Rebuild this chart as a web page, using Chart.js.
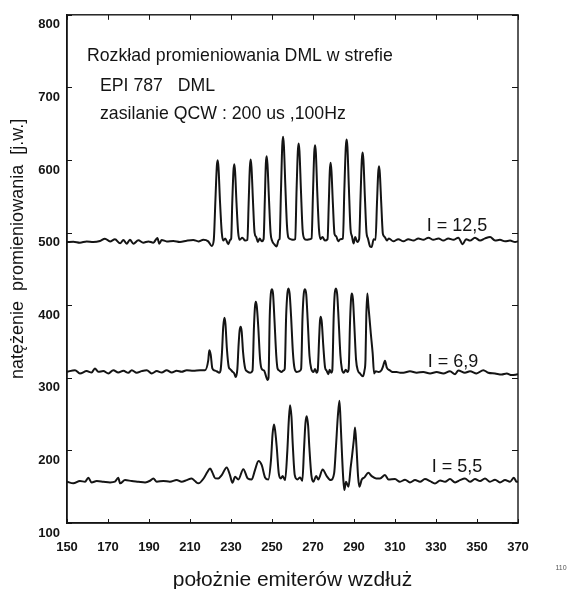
<!DOCTYPE html>
<html>
<head>
<meta charset="utf-8">
<script src="https://cdn.jsdelivr.net/npm/chart.js@4.4.1/dist/chart.umd.min.js"></script>
<style>
  html, body { margin: 0; padding: 0; background: #fff; }
  canvas { display: block; }
</style>
</head>
<body>
<canvas id="c" width="585" height="589"></canvas>
<script>
// ---- data ----
const xTicks = [150, 170, 190, 210, 230, 250, 270, 290, 310, 330, 350, 370];
const yTicks = [100, 200, 300, 400, 500, 600, 700, 800];

const titleLines = ["Rozkład promieniowania DML w strefie", "EPI 787   DML", "zasilanie QCW : 200 us ,100Hz"];
const seriesNames = ["I = 12,5", "I = 6,9", "I = 5,5"];
const xAxisTitle = "położnie emiterów wzdłuż";
const yAxisTitle = "natężenie  promieniowania  [j.w.]";

// I = 12,5 : [position, intensity]
const curve125 = [
  [150,487.0],[153.1,487.5],[156.3,486.1],[159.6,487.9],[162.8,487.0],[166.1,488.4],[168.5,491.6],[171.0,487.9],
  [173.4,490.7],[175.9,485.2],[177.5,489.8],[179.1,484.7],[180.7,490.2],[182.4,484.7],[184.8,489.3],[187.2,486.1],
  [189.7,487.9],[192.1,486.1],[194.1,492.5],[195.0,484.7],[196.2,489.8],[198.6,487.9],[201.9,488.4],[205.1,487.0],
  [208.4,488.8],[211.6,489.8],[214.1,487.9],[216.5,490.2],[218.9,487.9],[220.6,481.5],
  [221.6,490],[222.4,545],[223.1,592],[223.5,599.7],[223.9,590],[224.6,545],[225.5,500],[226.2,489],[227.2,492],[228.7,484],[229.6,490],
  [230.1,492],[230.6,540],[231.2,585],[231.6,594.2],[232.0,584],[232.7,540],[233.5,500],[234.3,490],[235.5,493],[236.9,489],
  [238.0,490],[238.6,540],[239.2,590],[239.6,600.6],[240.0,590],[240.7,545],[241.5,500],[242.3,494],[243.1,487],[244.0,492],[245.0,488],
  [245.9,491],[246.5,545],[247.0,595],[247.4,605.2],[247.8,594],[248.5,548],[249.3,500],[250.0,489],[251.1,484],[252.3,481],[253.2,490],
  [253.7,491],[254.4,560],[255.0,620],[255.4,631.9],[255.8,620],[256.5,565],[257.3,510],[258.0,493],[259.0,491],[260.4,490],
  [261.3,491],[262.0,560],[262.6,612],[263.0,622.7],[263.4,612],[264.1,560],[264.9,505],[265.7,492],[267.0,490],[268.5,491],
  [269.3,492],[270.0,555],[270.6,610],[271.0,620.4],[271.4,610],[272.1,555],[272.9,505],[273.6,491],[274.6,494],[275.8,489],
  [277.1,491],[277.7,540],[278.2,585],[278.6,596.1],[279.0,585],[279.7,540],[280.5,498],[281.3,495],[282.3,488],[283.3,491],
  [284.6,492],[285.3,560],[286.0,618],[286.4,628.2],[286.8,618],[287.5,562],[288.3,505],[289.0,495],[289.8,485],[290.6,494],[291.6,487],
  [292.5,491],[293.2,550],[293.8,600],[294.2,610.3],[294.6,600],[295.3,550],[296.1,500],[296.8,492],[297.8,481],[298.6,480],[299.6,491],
  [300.5,490],[301.2,540],[301.8,582],[302.2,591.5],[302.6,582],[303.3,540],[304.1,498],[305.0,494],[306.0,489],[307.0,492],
  [309.2,488],[311.6,491],[314.1,488],[316.5,491],[319.0,489],[321.4,492],[323.8,490],[326.3,493],[328.7,490],[331.2,492],
  [333.6,489],[336.0,492],[338.5,490],[340.9,493],[343.0,484],[344.7,491],[346.6,489],[349.0,493],[351.5,489],[353.9,492],
  [356.4,494],[358.8,489],[361.2,490],[363.7,488],[366.1,489],[368.6,487],[370,488]
];

// I = 6,9
const curve69 = [
  [150,308.3],[153.9,310.5],[156.3,306.0],[159.6,309.2],[162.0,307.3],[163.6,312.8],[165.3,308.3],[167.7,309.2],
  [170.2,306.0],[172.6,310.5],[175.0,307.3],[177.5,309.6],[179.9,306.9],[181.6,310.5],[184.0,306.9],[186.4,309.2],
  [188.9,310.5],[191.3,306.0],[193.8,309.2],[196.2,307.3],[198.6,310.5],[201.1,307.3],[203.5,309.6],[205.9,308.3],
  [208.4,310.5],[211.6,309.6],[214.9,310.5],[217.3,310.5],
  [218.9,324],[219.4,338],[220.1,332],[220.9,313],[222.1,310],[223.0,309],[224.3,307],
  [224.9,310],[225.6,335],[226.2,370],[226.8,382.7],[227.3,374],[228.0,340],[228.9,315],[229.6,312],[230.5,309],[231.6,306],[232.3,301],
  [233.1,312],[233.7,345],[234.2,365],[234.7,370.3],[235.2,364],[235.9,335],[236.9,313],[237.8,309],[239.3,307],
  [240.5,310],[241.2,370],[241.7,398],[242.1,404.7],[242.6,398],[243.3,370],[244.2,325],[245.0,312],[246.1,310],[247.9,297],
  [248.3,300],[248.9,385],[249.4,415],[249.9,422.1],[250.5,416],[251.2,380],[252.1,330],[252.7,313],[253.6,310],[254.6,308],[255.6,310],
  [256.2,312],[256.9,385],[257.5,416],[258.0,423.1],[258.6,416],[259.3,385],[260.2,335],[261.0,313],[262.1,308],[263.3,309],
  [264.2,312],[264.9,385],[265.5,416],[266.1,422.1],[266.7,415],[267.4,380],[268.3,330],[269.1,313],[270.2,308],[271.0,312],[271.8,307],
  [272.3,310],[273.0,355],[273.4,378],[273.8,384.1],[274.3,376],[275.0,345],[275.9,314],[276.6,310],[277.5,305],[278.1,311],[278.9,307],
  [279.4,310],[280.1,385],[280.6,416],[281.2,423.1],[281.8,415],[282.5,380],[283.4,330],[284.1,312],[285.0,307],[286.0,311],[286.8,308],
  [287.4,312],[288.1,380],[288.6,410],[289.0,416.2],[289.5,408],[290.2,370],[291.0,325],[291.9,310],[292.9,306],[294.3,302],[295.1,310],
  [295.6,325],[296.0,385],[296.5,416.2],[297.0,400],[297.5,384],[298.2,361],[299.1,334],[299.8,306],[300.6,309],[302.0,308],
  [303.3,310],[304.2,316],[305.1,323.5],[306.0,314],
  [307.6,310],[308.8,308],[310.8,308],[312.5,307],[314.1,307],[317.3,309],[320.6,307],[323.8,308],[327.1,306],[330.3,308],
  [333.6,306],[336.8,309],[339.3,305],[340.9,310],[344.1,307],[346.6,309],[349.8,306],[353.1,310.5],[355.5,307],[358.8,306],
  [362.0,304.6],[364.5,306],[366.9,303.7],[369.3,304.6],[370,305]
];

// I = 5,5
const curve55 = [
  [150,156.9],[153.1,154.6],[156.3,157.8],[158.8,156.9],[160.4,162.4],[162.0,155.9],[164.5,157.8],[167.7,156.9],
  [171.0,155.9],[173.4,156.9],[175.0,162.4],[175.9,154.6],[178.3,159.1],[181.6,157.8],[184.8,156.9],[188.1,155.9],
  [190.5,158.2],[192.1,161.4],[193.8,156.9],[197.0,157.8],[200.2,156.9],[203.5,159.1],[205.9,156.9],[208.4,159.1],
  [210.8,161.4],[212.4,157.8],[214.1,154.6],
  [216.8,162],[218.4,170],[219.8,175.2],[221.0,169],[222.3,161.5],[223.8,161.4],[225.5,166.0],[227.9,176.5],[229.5,166.0],
  [230.7,155.4],[232.0,163.7],[233.6,160.0],[236.0,174.2],[238.2,161.4],[240.1,160.0],[241.7,172.9],[243.4,185.3],[245.0,179.7],
  [246.6,162.8],[248.2,160.0],[249.5,186.6],[250.3,223.3],[251.0,235.7],[251.6,225.6],[252.3,205.0],[253.3,168.3],[254.3,161.4],
  [255.2,164.6],[256.4,159.1],[257.5,200.4],[258.2,241.7],[258.8,262.3],[259.5,246.3],[260.1,209.6],[261.1,166.0],[262.4,160.0],
  [263.7,162.8],[264.8,158.2],[265.6,200.4],[266.3,237.1],[266.9,247.2],[267.6,234.8],[268.2,205.0],[269.2,166.0],[270.2,156.8],
  [271.5,164.6],[272.6,160.0],[274.7,173.8],[276.7,164.6],[278.6,159.1],[280.3,168.3],[281.2,205.0],[282.1,246.3],[282.9,268.3],
  [283.5,237.1],[284.2,191.2],[284.8,159.1],[285.3,145.3],[286.1,156.8],[287.3,149.9],[288.4,177.4],[289.0,191.2],[289.9,214.2],
  [290.5,231.6],[291.2,205.0],[292.0,163.7],[292.6,149.9],[293.8,160.0],[295.1,162.8],[297.0,169.2],[298.6,164.6],[300.8,161.4],
  [302.7,161.4],[305.1,166.0],[306.8,160.0],
  [310.0,160.5],[312.4,156.8],[314.9,159.6],[317.3,155.9],[319.8,159.1],[322.2,156.8],[324.6,160.5],[327.1,157.7],[329.5,154.5],
  [332.0,158.7],[334.4,156.8],[336.8,160.5],[339.3,155.9],[341.7,159.1],[344.1,161.4],[346.6,156.8],[349.0,160.5],[351.5,157.7],
  [353.9,161.4],[356.3,156.8],[358.8,159.6],[361.2,155.9],[363.7,159.1],[366.1,156.8],[368.0,162.4],[369.3,156.8],[370,157]
];

// ---- drawing ----
const FONT = '"Liberation Sans", Arial, Helvetica, sans-serif';
const INK = '#141414';
const toPoints = arr => arr.map(p => ({ x: p[0], y: p[1] }));

function ds(arr) {
  return {
    data: toPoints(arr),
    borderColor: INK,
    borderWidth: 2,
    pointRadius: 0,
    fill: false,
    cubicInterpolationMode: 'monotone',
    borderJoinStyle: 'round'
  };
}

const framePlugin = {
  id: 'frame',
  afterDraw(chart) {
    const { ctx, chartArea: a, scales } = chart;
    const xs = scales.x, ys = scales.y;
    ctx.save();
    ctx.strokeStyle = INK;
    ctx.lineWidth = 1.4;
    ctx.strokeRect(a.left, a.top, a.right - a.left, a.bottom - a.top);
    ctx.lineWidth = 1;
    ctx.beginPath();
    xTicks.forEach(v => {
      const px = Math.round(xs.getPixelForValue(v)) + 0.5;
      ctx.moveTo(px, a.bottom); ctx.lineTo(px, a.bottom - 4);
      ctx.moveTo(px, a.top); ctx.lineTo(px, a.top + 5);
    });
    yTicks.forEach(v => {
      const py = Math.round(ys.getPixelForValue(v)) + 0.5;
      ctx.moveTo(a.left, py); ctx.lineTo(a.left + 5, py);
      ctx.moveTo(a.right, py); ctx.lineTo(a.right - 6, py);
    });
    ctx.stroke();

    // annotation text inside the plot
    ctx.fillStyle = INK;
    ctx.textBaseline = 'middle';
    ctx.textAlign = 'left';
    ctx.font = '17.7px ' + FONT;
    ctx.fillText(titleLines[0], a.left + 20, a.top + 41);
    ctx.fillText(titleLines[1], a.left + 33, a.top + 71);
    ctx.fillText(titleLines[2], a.left + 33, a.top + 99);

    ctx.textAlign = 'center';
    ctx.font = '18px ' + FONT;
    ctx.fillText(seriesNames[0], xs.getPixelForValue(340.2), ys.getPixelForValue(508.8));
    ctx.fillText(seriesNames[1], xs.getPixelForValue(338.3), ys.getPixelForValue(321.6));
    ctx.fillText(seriesNames[2], xs.getPixelForValue(340.2), ys.getPixelForValue(177));

    // y axis title
    ctx.save();
    ctx.translate(18, (a.top + a.bottom) / 2 - 20);
    ctx.rotate(-Math.PI / 2);
    ctx.font = '18px ' + FONT;
    ctx.fillText(yAxisTitle, 0, 0);
    ctx.restore();

    // small mark at the lower right
    ctx.font = '7px ' + FONT;
    ctx.fillStyle = '#555';
    ctx.fillText('110', 561, 568);
    ctx.restore();
  }
};

new Chart(document.getElementById('c'), {
  type: 'line',
  data: { datasets: [ds(curve125), ds(curve69), ds(curve55)] },
  options: {
    responsive: false,
    animation: false,
    devicePixelRatio: 1,
    layout: { padding: { top: 14, right: 67, bottom: 0, left: 0 } },
    plugins: { legend: { display: false }, tooltip: { enabled: false } },
    scales: {
      x: {
        type: 'linear',
        min: 150, max: 370,
        afterBuildTicks: s => { s.ticks = xTicks.map(v => ({ value: v })); },
        afterFit: s => { s.height = 66; },
        ticks: { color: INK, font: { family: FONT, size: 13, weight: 'bold' }, padding: 17, maxRotation: 0, autoSkip: false },
        grid: { display: false, drawTicks: false },
        border: { display: true, color: INK, width: 1.4 },
        title: { display: true, text: xAxisTitle, color: INK, font: { family: FONT, size: 21, lineHeight: 0.8 }, padding: { top: 0, bottom: 0 } }
      },
      y: {
        type: 'linear',
        min: 100, max: 800,
        afterBuildTicks: s => { s.ticks = yTicks.map(v => ({ value: v })); },
        afterFit: s => { s.width = 67; },
        ticks: { color: INK, font: { family: FONT, size: 13, weight: 'bold' }, padding: 7, labelOffset: 10 },
        grid: { display: false, drawTicks: false },
        border: { display: true, color: INK, width: 1.4 }
      }
    }
  },
  plugins: [framePlugin]
});
</script>
</body>
</html>
